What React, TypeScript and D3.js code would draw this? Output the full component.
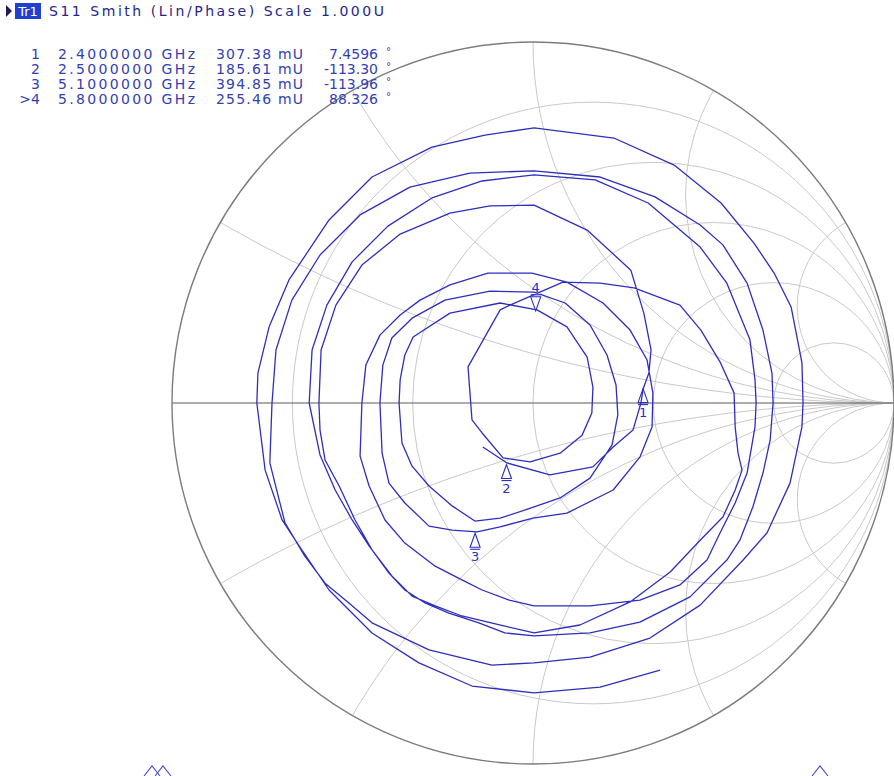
import React from "react";
import * as d3 from "d3";

// ---- Smith chart grid values ----
const resistanceValues = [0.2, 0.5, 1, 2, 5];
const reactanceValues = [0.268, 0.577, 1, 1.732, 3.732];

const traceRe = [
  0.352, 0.186, 0.003, -0.169, -0.316, -0.446, -0.565, -0.648, -0.695, -0.742,
  -0.765, -0.762, -0.731, -0.676, -0.565, -0.446, -0.28, -0.133, 0.003, 0.224,
  0.391, 0.521, 0.612, 0.668, 0.715, 0.745, 0.748, 0.745, 0.712, 0.648,
  0.582, 0.463, 0.324, 0.158, 0.003, -0.114, -0.288, -0.446, -0.51, -0.576,
  -0.632, -0.687, -0.729, -0.723, -0.712, -0.668, -0.59, -0.479, -0.341, -0.175,
  0.003, 0.186, 0.338, 0.463, 0.526, 0.593, 0.637, 0.662, 0.665, 0.657,
  0.637, 0.609, 0.573, 0.537, 0.435, 0.296, 0.158, 0.003, -0.078, -0.15,
  -0.233, -0.299, -0.355, -0.399, -0.454, -0.501, -0.548, -0.59, -0.62, -0.612,
  -0.571, -0.501, -0.402, -0.28, -0.141, 0.003, 0.172, 0.319, 0.463, 0.537,
  0.601, 0.615, 0.618, 0.615, 0.593, 0.56, 0.518, 0.482, 0.407, 0.296,
  0.158, 0.003, -0.066, -0.141, -0.197, -0.271, -0.355, -0.41, -0.454, -0.479,
  -0.474, -0.463, -0.424, -0.368, -0.313, -0.23, -0.125, -0.003, 0.094, 0.194,
  0.269, 0.316, 0.332, 0.33, 0.296, 0.222, 0.094, 0.0, -0.091, -0.155,
  -0.224, -0.288, -0.355, -0.399, -0.418, -0.424, -0.416, -0.391, -0.335, -0.244,
  -0.119, 0.003, 0.089, 0.158, 0.205, 0.23, 0.235, 0.219, 0.158, 0.075,
  0.003, -0.091, -0.161, -0.224, -0.288, -0.335, -0.363, -0.371, -0.368, -0.355,
  -0.332, -0.23, -0.091, 0.011, 0.094, 0.15, 0.166, 0.163, 0.136, 0.075,
  -0.008, -0.083, -0.141, -0.169, -0.18, -0.091, -0.064, 0.083, 0.186, 0.28,
  0.407, 0.465, 0.518, 0.557, 0.56, 0.568, 0.579, 0.56, 0.526, 0.463,
  0.38, 0.269, 0.13, 0.003, -0.078, -0.197, -0.271, -0.335, -0.391, -0.446,
  -0.493, -0.537, -0.576, -0.59, -0.593, -0.587, -0.546, -0.474, -0.368, -0.23,
  -0.119, 0.003, 0.15, 0.271, 0.307, 0.327, 0.321, 0.305, 0.299, 0.277,
  0.222, 0.166, 0.047, -0.072, -0.139,
];
const traceIm = [
  -0.74, -0.787, -0.803, -0.784, -0.72, -0.637, -0.518, -0.396, -0.324, -0.186,
  0.0, 0.083, 0.211, 0.341, 0.507, 0.626, 0.709, 0.742, 0.762, 0.734,
  0.659, 0.554, 0.443, 0.36, 0.266, 0.111, 0.0, -0.066, -0.222, -0.36,
  -0.435, -0.56, -0.651, -0.704, -0.72, -0.726, -0.684, -0.609, -0.554, -0.499,
  -0.424, -0.332, -0.166, 0.0, 0.147, 0.285, 0.41, 0.521, 0.598, 0.637,
  0.643, 0.626, 0.571, 0.493, 0.438, 0.332, 0.202, 0.083, 0.0, -0.102,
  -0.194, -0.288, -0.38, -0.435, -0.537, -0.607, -0.637, -0.645, -0.637, -0.609,
  -0.582, -0.554, -0.518, -0.471, -0.396, -0.324, -0.241, -0.144, 0.0, 0.147,
  0.271, 0.391, 0.49, 0.568, 0.615, 0.632, 0.618, 0.554, 0.432, 0.332,
  0.175, 0.064, 0.0, -0.066, -0.194, -0.277, -0.36, -0.435, -0.504, -0.546,
  -0.562, -0.562, -0.546, -0.518, -0.49, -0.452, -0.388, -0.324, -0.23, -0.147,
  0.0, 0.105, 0.188, 0.244, 0.285, 0.327, 0.36, 0.36, 0.335, 0.277,
  0.202, 0.119, 0.028, -0.066, -0.15, -0.241, -0.305, -0.319, -0.343, -0.357,
  -0.352, -0.341, -0.277, -0.222, -0.139, 0.0, 0.105, 0.18, 0.235, 0.285,
  0.31, 0.307, 0.277, 0.216, 0.133, 0.05, -0.033, -0.116, -0.208, -0.263,
  -0.288, -0.319, -0.327, -0.285, -0.23, -0.175, -0.111, 0.0, 0.064, 0.133,
  0.183, 0.249, 0.277, 0.258, 0.211, 0.127, 0.044, -0.028, -0.089, -0.139,
  -0.163, -0.152, -0.083, -0.047, 0.1, 0.258, 0.271, 0.335, 0.332, 0.319,
  0.271, 0.202, 0.114, 0.028, -0.066, -0.139, -0.186, -0.241, -0.316, -0.38,
  -0.468, -0.551, -0.615, -0.637, -0.618, -0.59, -0.562, -0.535, -0.479, -0.407,
  -0.324, -0.23, -0.158, -0.075, 0.0, 0.147, 0.271, 0.382, 0.468, 0.526,
  0.546, 0.548, 0.479, 0.368, 0.249, 0.147, 0.083, 0.039, 0.0, -0.075,
  -0.122, -0.177, -0.199, -0.166, -0.122,
];

// ---- Markers ----
const markerIds = ["1", "2", "3", ">4"];
const markerFreqText = ["2.4000000 GHz", "2.5000000 GHz", "5.1000000 GHz", "5.8000000 GHz"];
const markerMagMU = [307.38, 185.61, 394.85, 255.46];
const markerMagText = ["307.38 mU", "185.61 mU", "394.85 mU", "255.46 mU"];
const markerPhaseDeg = [7.4596, -113.3, -113.96, 88.326];
const markerPhaseText = ["7.4596", "-113.30", "-113.96", "88.326"];
const markerPointsDown = [false, false, false, true];

const headerText = "S11 Smith (Lin/Phase) Scale 1.000U";

export default function App() {
  const W = 894, H = 776;
  const cx = 533, cy = 403, R = 361;
  const x = d3.scaleLinear().domain([-1, 1]).range([cx - R, cx + R]);
  const y = d3.scaleLinear().domain([-1, 1]).range([cy + R, cy - R]);
  const k = R; // pixels per unit

  const line = d3
    .line<number>()
    .x((i) => x(traceRe[i]))
    .y((i) => y(traceIm[i]));
  const tracePath = line(d3.range(traceRe.length)) || "";

  const gridColor = "#c9c9c9";
  const traceColor = "#2e2ebe";
  const textBlue = "#3340b4";
  const font = "'DejaVu Sans', Verdana, sans-serif";

  const markers = markerMagMU.map((m, i) => {
    const mag = m / 1000;
    const ph = (markerPhaseDeg[i] * Math.PI) / 180;
    return { px: x(mag * Math.cos(ph)), py: y(mag * Math.sin(ph)), down: markerPointsDown[i], label: String(i + 1) };
  });

  const rowY = [59, 74, 89, 104];

  return (
    <svg
      width={W}
      height={H}
      viewBox={`0 0 ${W} ${H}`}
      style={{ position: "absolute", left: 0, top: 0, background: "#fff" }}
    >
      <defs>
        <clipPath id="unit">
          <circle cx={cx} cy={cy} r={R} />
        </clipPath>
      </defs>
      <rect x={0} y={0} width={W} height={H} fill="#fff" />

      {/* grid */}
      <g clipPath="url(#unit)" fill="none" stroke={gridColor} strokeWidth={1}>
        {resistanceValues.map((r) => (
          <circle key={"r" + r} cx={x(r / (r + 1))} cy={y(0)} r={k / (r + 1)} />
        ))}
        {reactanceValues.map((xv) => (
          <g key={"x" + xv}>
            <circle cx={x(1)} cy={y(1 / xv)} r={k / xv} />
            <circle cx={x(1)} cy={y(-1 / xv)} r={k / xv} />
          </g>
        ))}
      </g>
      <line x1={x(-1)} x2={x(1)} y1={y(0)} y2={y(0)} stroke="#5a5a5a" strokeWidth={1.2} />
      <circle cx={cx} cy={cy} r={R} fill="none" stroke="#7c7c7c" strokeWidth={1.4} />

      {/* trace */}
      <path d={tracePath} fill="none" stroke={traceColor} strokeWidth={1.3} strokeLinejoin="round" />

      {/* markers on trace */}
      <g fill="none" stroke={traceColor} strokeWidth={1.1} fontFamily={font} fontSize={13}>
        {markers.map((m, i) =>
          m.down ? (
            <g key={i}>
              <path d={`M${m.px},${m.py} L${m.px - 5},${m.py - 14} L${m.px + 5},${m.py - 14} Z`} />
              <line x1={m.px - 5} x2={m.px + 5} y1={m.py - 16} y2={m.py - 16} />
              <text x={m.px} y={m.py - 19} textAnchor="middle" fill={traceColor} stroke="none">
                {m.label}
              </text>
            </g>
          ) : (
            <g key={i}>
              <path d={`M${m.px},${m.py} L${m.px - 5},${m.py + 14} L${m.px + 5},${m.py + 14} Z`} />
              <line x1={m.px - 5} x2={m.px + 5} y1={m.py + 16} y2={m.py + 16} />
              <text x={m.px} y={m.py + 28} textAnchor="middle" fill={traceColor} stroke="none">
                {m.label}
              </text>
            </g>
          )
        )}
      </g>

      {/* header */}
      <path d="M6,5 L12,11 L6,17 Z" fill="#1b1b5e" />
      <rect x={15} y={3} width={26} height={16} fill="#1f3fd0" />
      <text x={28} y={16} textAnchor="middle" fontFamily={font} fontSize={13} fill="#fff">
        Tr1
      </text>
      <text x={49} y={16} fontFamily={font} fontSize={14} fill="#26268a" textLength={335} lengthAdjust="spacing">
        {headerText}
      </text>

      {/* marker table */}
      <g fontFamily={font} fontSize={14} fill={textBlue}>
        {markerIds.map((id, i) => (
          <g key={id}>
            <text x={40} y={rowY[i]} textAnchor="end">
              {id}
            </text>
            <text x={58} y={rowY[i]} textLength={137} lengthAdjust="spacing">
              {markerFreqText[i]}
            </text>
            <text x={216} y={rowY[i]} textLength={87} lengthAdjust="spacing">
              {markerMagText[i]}
            </text>
            <text x={378} y={rowY[i]} textAnchor="end">
              {markerPhaseText[i]}
            </text>
            <text x={386} y={rowY[i] - 4} fontSize={10}>
              °
            </text>
          </g>
        ))}
      </g>

      {/* scroll indicators */}
      <g fill="none" stroke="#4a4ad0" strokeWidth={1.1}>
        <path d="M144,776 L152,766 L160,776" />
        <path d="M155,776 L163,766 L171,776" />
        <path d="M812,776 L820,766 L828,776" />
      </g>
    </svg>
  );
}
